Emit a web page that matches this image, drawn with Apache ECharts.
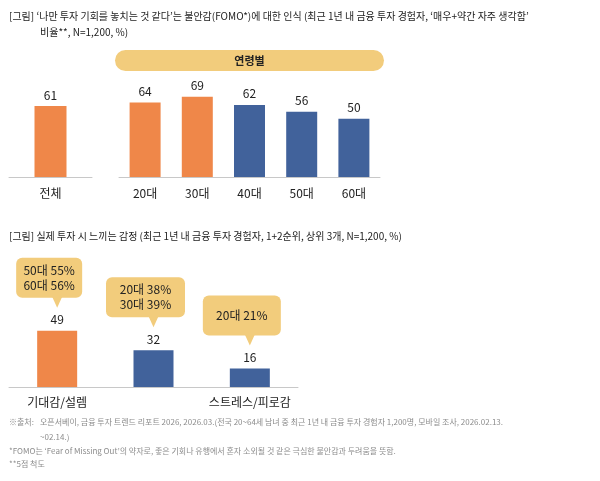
<!DOCTYPE html>
<html>
<head>
<meta charset="utf-8">
<script src="https://cdn.jsdelivr.net/npm/echarts@6/dist/echarts.min.js"></script>
<style>
  html, body { margin: 0; padding: 0; background: #fff; }
  #chart { width: 600px; height: 481px; }
</style>
</head>
<body>
<div id="chart"></div>
<script>
  // 상단: FOMO 인식 비율
  var totalCats = ['전체'];
  var totalVals = [61];
  var ageCats = ['20대', '30대', '40대', '50대', '60대'];
  var ageVals = [64, 69, 62, 56, 50];
  var ageHighlight = [true, true, false, false, false];

  // 하단: 투자 시 감정
  var emoCats = ['기대감/설렘', '불안/걱정', '스트레스/피로감'];
  var emoVals = [49, 32, 16];
  var emoHighlight = [true, false, false];
  var emoNotes = ['50대 55%\n60대 56%', '20대 38%\n30대 39%', '20대 21%'];

  var ORANGE = '#EF8749';
  var BLUE = '#41629B';
  var YELLOW = '#F2CC7C';
  var FONT = 'Noto Sans CJK KR';
  var noteWidths = [66, 79, 78];

  var chart = echarts.init(document.getElementById('chart'));

  function catAxis(gridIndex, data, margin) {
    return {
      type: 'category', gridIndex: gridIndex, data: data,
      axisLine: { lineStyle: { color: '#C8C8C8', width: 1 } },
      axisTick: { show: false },
      axisLabel: { color: '#222', fontSize: 12, fontFamily: FONT, margin: margin }
    };
  }
  function valAxis(gridIndex) {
    return { type: 'value', gridIndex: gridIndex, min: 0, max: 100, show: false, splitLine: { show: false } };
  }
  var barLabel = { show: true, position: 'top', distance: 5, color: '#222', fontSize: 12, fontFamily: FONT };
  var footStyle = { fill: '#8C8C8C', fontSize: 8, fontFamily: FONT };

  chart.setOption({
    animation: false,
    grid: [
      { left: 9, width: 83, top: 60.7, height: 116.3 },
      { left: 119, width: 261, top: 60.7, height: 116.3 },
      { left: 9, width: 289, top: 272, height: 115 }
    ],
    xAxis: [catAxis(0, totalCats, 10), catAxis(1, ageCats, 10), catAxis(2, emoCats, 9)],
    yAxis: [valAxis(0), valAxis(1), valAxis(2)],
    series: [
      {
        type: 'bar', xAxisIndex: 0, yAxisIndex: 0, barWidth: 32,
        data: totalVals, itemStyle: { color: ORANGE }, label: barLabel
      },
      {
        type: 'bar', xAxisIndex: 1, yAxisIndex: 1, barWidth: 31,
        data: ageVals.map(function (v, i) {
          return { value: v, itemStyle: { color: ageHighlight[i] ? ORANGE : BLUE } };
        }),
        label: barLabel
      },
      {
        type: 'bar', xAxisIndex: 2, yAxisIndex: 2, barWidth: 40,
        data: emoVals.map(function (v, i) {
          return { value: v, itemStyle: { color: emoHighlight[i] ? ORANGE : BLUE } };
        }),
        label: barLabel
      },
      {
        // 말풍선
        type: 'custom', xAxisIndex: 2, yAxisIndex: 2, clip: false, z: 5,
        data: emoVals.map(function (v, i) { return [i, v]; }),
        renderItem: function (params, api) {
          var i = params.dataIndex;
          var p = api.coord([api.value(0), api.value(1)]);
          var w = noteWidths[i], h = 40;
          var bottom = p[1] - 33;
          var cx = p[0] - 8;
          return {
            type: 'group',
            children: [
              { type: 'rect', shape: { x: cx - w / 2, y: bottom - h, width: w, height: h, r: 6 },
                style: { fill: YELLOW } },
              { type: 'polygon', shape: { points: [[p[0] - 5, bottom - 1], [p[0] + 5, bottom - 1], [p[0], bottom + 10]] },
                style: { fill: YELLOW } },
              { type: 'text', x: cx, y: bottom - h / 2,
                style: { text: emoNotes[i], fill: '#222', fontSize: 12, fontFamily: FONT,
                  align: 'center', verticalAlign: 'middle', lineHeight: 15 } }
            ]
          };
        }
      }
    ],
    graphic: [
      { type: 'text', left: 9, top: 11,
        style: { text: "[그림] ‘나만 투자 기회를 놓치는 것 같다’는 불안감(FOMO*)에 대한 인식 (최근 1년 내 금융 투자 경험자, ‘매우+약간 자주 생각함’",
          fill: '#222', fontSize: 10, fontFamily: FONT } },
      { type: 'text', left: 40, top: 27,
        style: { text: '비율**, N=1,200, %)', fill: '#222', fontSize: 10, fontFamily: FONT } },
      { type: 'rect', shape: { x: 115, y: 50, width: 269, height: 21, r: 10.5 }, style: { fill: YELLOW } },
      { type: 'text', x: 249.5, y: 61,
        style: { text: '연령별', fill: '#222', fontSize: 11, fontWeight: 'bold', fontFamily: FONT,
          align: 'center', verticalAlign: 'middle' } },
      { type: 'text', left: 9, top: 231,
        style: { text: '[그림] 실제 투자 시 느끼는 감정 (최근 1년 내 금융 투자 경험자, 1+2순위, 상위 3개, N=1,200, %)',
          fill: '#222', fontSize: 10, fontFamily: FONT } },
      { type: 'text', left: 9, top: 418, style: Object.assign({ text: '※출처:' }, footStyle) },
      { type: 'text', left: 40, top: 418,
        style: Object.assign({ text: '오픈서베이, 금융 투자 트렌드 리포트 2026, 2026.03.(전국 20~64세 남녀 중 최근 1년 내 금융 투자 경험자 1,200명, 모바일 조사, 2026.02.13.' }, footStyle) },
      { type: 'text', left: 40, top: 433, style: Object.assign({ text: '~02.14.)' }, footStyle) },
      { type: 'text', left: 9, top: 447,
        style: Object.assign({ text: '*FOMO는 ‘Fear of Missing Out’의 약자로, 좋은 기회나 유행에서 혼자 소외될 것 같은 극심한 불안감과 두려움을 뜻함.' }, footStyle) },
      { type: 'text', left: 9, top: 460, style: Object.assign({ text: '**5점 척도' }, footStyle) }
    ]
  });
</script>
</body>
</html>
